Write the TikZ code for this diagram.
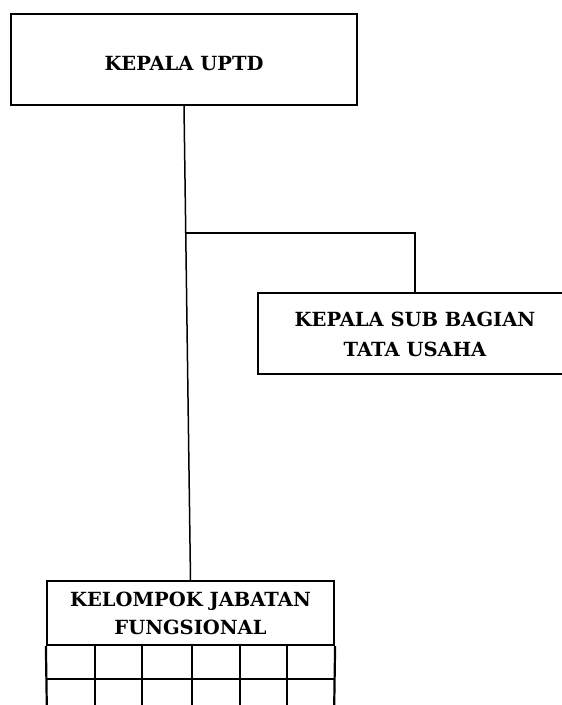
\documentclass[tikz,border=0pt]{standalone}
\usepackage{fontspec}
\setmainfont{DejaVu Serif}
\begin{document}
\begin{tikzpicture}[x=1pt,y=-1pt,
  box/.style={draw=black,line width=1.9pt,fill=white,inner sep=0pt},
  lbl/.style={font=\fontsize{19.5}{30}\selectfont\bfseries,align=center,inner sep=0pt},
  conn/.style={draw=black,line width=1.5pt},
  grid/.style={draw=black,line width=2.2pt}]
\useasboundingbox (0,0) rectangle (562,705);
\clip (0,0) rectangle (562,705);
% top box
\node[box,minimum width=346pt,minimum height=91pt] (top) at (184,59.5) {};
\node[lbl] (toptext) at (184,63.5) {KEPALA UPTD};
% sub box
\node[box,minimum width=314pt,minimum height=81pt] (sub) at (415,333.5) {};
\node[lbl] (subtext) at (415,334.5) {KEPALA SUB BAGIAN\\TATA USAHA};
% bottom header
\node[box,line width=2.2pt,minimum width=287pt,minimum height=64pt] (bot) at (190.5,613) {};
\node[lbl,font=\fontsize{19.5}{28}\selectfont\bfseries] (bottext) at (190.5,613) {KELOMPOK JABATAN\\FUNGSIONAL};
% connectors
\coordinate (j) at (185.6,233);
\draw[conn] (top.south) -- (bot.north);
\draw[conn] (j) -| (sub.north);
% grid
\draw[grid] (bot.south west) -- (47,720);
\draw[grid] (bot.south east) -- (334,720);
\foreach \x in {95,142.3,192.3,240,286.7}{
  \draw[grid] (\x,645) -- (\x,720);
}
\draw[grid] (47,679) -- (334,679);
\end{tikzpicture}
\end{document}
